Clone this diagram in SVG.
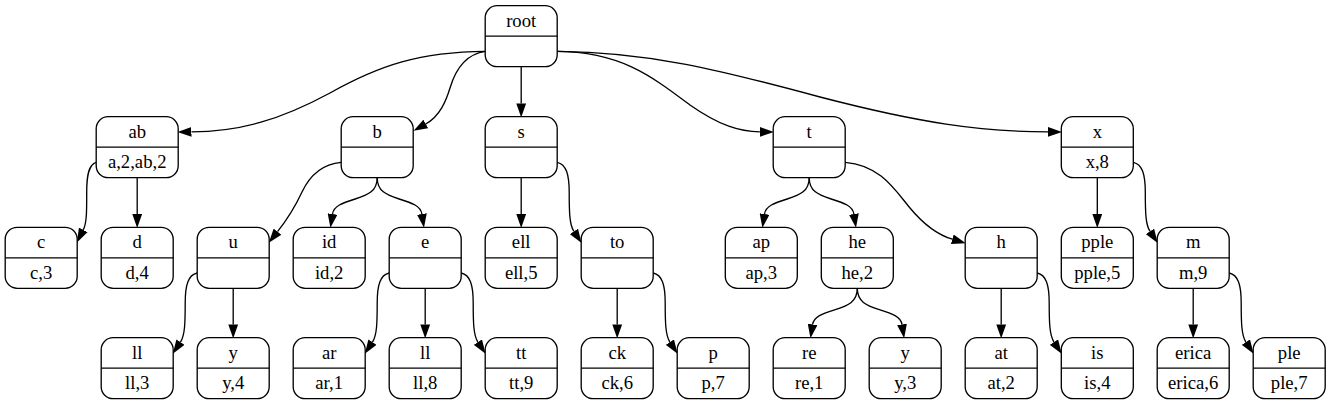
<svg xmlns="http://www.w3.org/2000/svg" width="1331" height="405" viewBox="0 0 1331 405" font-family="Liberation Serif, DejaVu Serif, serif">
<defs>
<style>
.n rect{fill:#fff;stroke:#000;stroke-width:1.33}
.n line{stroke:#000;stroke-width:1.33}
.n text{font-family:'Liberation Serif','DejaVu Serif',serif;font-size:18.67px;text-anchor:middle;fill:#000}
.e path{fill:none;stroke:#000;stroke-width:1.33;marker-end:url(#ah)}
</style>
<marker id="ah" markerUnits="userSpaceOnUse" markerWidth="14" markerHeight="10" viewBox="0 0 13.3 9.34" refX="0" refY="4.67" orient="auto">
<path d="M0,0 L13.3,4.67 L0,9.34 z" fill="#000"/>
</marker>
</defs>
<rect width="1331" height="405" fill="#fff"/>
<g id="connectors" class="e">
<path d="M485.5,51.4 C420,52 380,65 330,93 C280,120 240,131.6 191.5,131.9"/>
<path d="M485.5,51.4 C466,54 456,68 450,88 C446,101 440,116 425.8,124"/>
<path d="M521.2,66.7 L521.2,103.4"/>
<path d="M557,51.4 C620,52 650,75 690,105 C720,126 740,131.6 759.9,131.9"/>
<path d="M557,51.4 C650,52 720,70 820,97 C920,123 980,131.6 1048,131.9"/>
<path d="M96.2,162.3 C89,164.3 86.7,174.3 86.7,192.3 C86.7,210 86.9,222.8 83.3,229.9"/>
<path d="M137.2,177.7 L137.2,214"/>
<path d="M341.2,162.3 C322,164 310,175 302,192 C295,207 286,221 277.5,231.7"/>
<path d="M377.2,177.7 C377.2,191 368.2,195 355.2,199 C342.2,203 333.7,206 332.5,214"/>
<path d="M377.2,177.7 C377.2,191 386.2,195 399.2,199 C412.2,203 420.7,206 421.9,214"/>
<path d="M521.2,177.7 L521.2,214"/>
<path d="M557.2,162.3 C566.2,164.3 569.2,174.3 569.2,192.3 C569.2,212.3 569.5,224.7 573.9,231.4"/>
<path d="M809.2,177.7 C809.2,191 800.2,195 787.2,199 C774.2,203 765.7,206 764.5,214"/>
<path d="M809.2,177.7 C809.2,191 818.2,195 831.2,199 C844.2,203 852.7,206 853.9,214"/>
<path d="M845.2,162.3 C880,165 895,190 910,208 C925,226 938,235 952.3,239.2"/>
<path d="M1097.3,177.7 L1097.3,214"/>
<path d="M1133.3,162.3 C1142.3,164.3 1145.3,174.3 1145.3,192.3 C1145.3,212.3 1145.6,224.7 1150,231.4"/>
<path d="M197.2,273 C188.2,275 185.2,285 185.2,303 C185.2,323 184.9,335.4 180.5,342.1"/>
<path d="M233.2,288.3 L233.2,324.4"/>
<path d="M389.2,273 C380.2,275 377.2,285 377.2,303 C377.2,323 376.9,335.4 372.5,342.1"/>
<path d="M425.2,288.3 L425.2,324.4"/>
<path d="M461.2,273 C470.2,275 473.2,285 473.2,303 C473.2,323 473.5,335.4 477.9,342.1"/>
<path d="M617.2,288.3 L617.2,324.4"/>
<path d="M653.2,273 C662.2,275 665.2,285 665.2,303 C665.2,323 665.5,335.4 669.9,342.1"/>
<path d="M857.3,288.3 C857.3,301.6 848.3,305.6 835.3,309.6 C822.3,313.6 813.8,316.6 812.6,324.4"/>
<path d="M857.3,288.3 C857.3,301.6 866.3,305.6 879.3,309.6 C892.3,313.6 900.8,316.6 902,324.4"/>
<path d="M1001.2,288.3 L1001.2,324.4"/>
<path d="M1037.2,273 C1046.2,275 1049.2,285 1049.2,303 C1049.2,323 1049.6,335.4 1054,342.1"/>
<path d="M1193.2,288.3 L1193.2,324.4"/>
<path d="M1229.2,273 C1238.2,275 1241.2,285 1241.2,303 C1241.2,323 1241.5,335.4 1245.9,342.1"/>
</g>
<g id="n_root" class="n"><rect x="485.2" y="5.7" width="72" height="61" rx="12"/><line x1="485.2" y1="36.2" x2="557.2" y2="36.2"/><text x="521.2" y="26.5">root</text></g>
<g id="n_ab" class="n"><rect x="96.2" y="116.7" width="82" height="61" rx="12"/><line x1="96.2" y1="147.2" x2="178.2" y2="147.2"/><text x="137.2" y="137.5">ab</text><text x="137.2" y="168">a,2,ab,2</text></g>
<g id="n_b" class="n"><rect x="341.2" y="116.7" width="72" height="61" rx="12"/><line x1="341.2" y1="147.2" x2="413.2" y2="147.2"/><text x="377.2" y="137.5">b</text></g>
<g id="n_s" class="n"><rect x="485.2" y="116.7" width="72" height="61" rx="12"/><line x1="485.2" y1="147.2" x2="557.2" y2="147.2"/><text x="521.2" y="137.5">s</text></g>
<g id="n_t" class="n"><rect x="773.2" y="116.7" width="72" height="61" rx="12"/><line x1="773.2" y1="147.2" x2="845.2" y2="147.2"/><text x="809.2" y="137.5">t</text></g>
<g id="n_x" class="n"><rect x="1061.3" y="116.7" width="72" height="61" rx="12"/><line x1="1061.3" y1="147.2" x2="1133.3" y2="147.2"/><text x="1097.3" y="137.5">x</text><text x="1097.3" y="168">x,8</text></g>
<g id="n_c" class="n"><rect x="5.2" y="227.3" width="72" height="61" rx="12"/><line x1="5.2" y1="257.8" x2="77.2" y2="257.8"/><text x="41.2" y="248.1">c</text><text x="41.2" y="278.6">c,3</text></g>
<g id="n_d" class="n"><rect x="101.2" y="227.3" width="72" height="61" rx="12"/><line x1="101.2" y1="257.8" x2="173.2" y2="257.8"/><text x="137.2" y="248.1">d</text><text x="137.2" y="278.6">d,4</text></g>
<g id="n_u" class="n"><rect x="197.2" y="227.3" width="72" height="61" rx="12"/><line x1="197.2" y1="257.8" x2="269.2" y2="257.8"/><text x="233.2" y="248.1">u</text></g>
<g id="n_id" class="n"><rect x="293.2" y="227.3" width="72" height="61" rx="12"/><line x1="293.2" y1="257.8" x2="365.2" y2="257.8"/><text x="329.2" y="248.1">id</text><text x="329.2" y="278.6">id,2</text></g>
<g id="n_e" class="n"><rect x="389.2" y="227.3" width="72" height="61" rx="12"/><line x1="389.2" y1="257.8" x2="461.2" y2="257.8"/><text x="425.2" y="248.1">e</text></g>
<g id="n_ell" class="n"><rect x="485.2" y="227.3" width="72" height="61" rx="12"/><line x1="485.2" y1="257.8" x2="557.2" y2="257.8"/><text x="521.2" y="248.1">ell</text><text x="521.2" y="278.6">ell,5</text></g>
<g id="n_to" class="n"><rect x="581.2" y="227.3" width="72" height="61" rx="12"/><line x1="581.2" y1="257.8" x2="653.2" y2="257.8"/><text x="617.2" y="248.1">to</text></g>
<g id="n_ap" class="n"><rect x="725.3" y="227.3" width="72" height="61" rx="12"/><line x1="725.3" y1="257.8" x2="797.3" y2="257.8"/><text x="761.3" y="248.1">ap</text><text x="761.3" y="278.6">ap,3</text></g>
<g id="n_he" class="n"><rect x="821.3" y="227.3" width="72" height="61" rx="12"/><line x1="821.3" y1="257.8" x2="893.3" y2="257.8"/><text x="857.3" y="248.1">he</text><text x="857.3" y="278.6">he,2</text></g>
<g id="n_h" class="n"><rect x="965.2" y="227.3" width="72" height="61" rx="12"/><line x1="965.2" y1="257.8" x2="1037.2" y2="257.8"/><text x="1001.2" y="248.1">h</text></g>
<g id="n_pple" class="n"><rect x="1061.3" y="227.3" width="72" height="61" rx="12"/><line x1="1061.3" y1="257.8" x2="1133.3" y2="257.8"/><text x="1097.3" y="248.1">pple</text><text x="1097.3" y="278.6">pple,5</text></g>
<g id="n_m" class="n"><rect x="1157.2" y="227.3" width="72" height="61" rx="12"/><line x1="1157.2" y1="257.8" x2="1229.2" y2="257.8"/><text x="1193.2" y="248.1">m</text><text x="1193.2" y="278.6">m,9</text></g>
<g id="n_ll1" class="n"><rect x="101.2" y="337.7" width="72" height="61" rx="12"/><line x1="101.2" y1="368.2" x2="173.2" y2="368.2"/><text x="137.2" y="358.5">ll</text><text x="137.2" y="389">ll,3</text></g>
<g id="n_y1" class="n"><rect x="197.2" y="337.7" width="72" height="61" rx="12"/><line x1="197.2" y1="368.2" x2="269.2" y2="368.2"/><text x="233.2" y="358.5">y</text><text x="233.2" y="389">y,4</text></g>
<g id="n_ar" class="n"><rect x="293.2" y="337.7" width="72" height="61" rx="12"/><line x1="293.2" y1="368.2" x2="365.2" y2="368.2"/><text x="329.2" y="358.5">ar</text><text x="329.2" y="389">ar,1</text></g>
<g id="n_ll2" class="n"><rect x="389.2" y="337.7" width="72" height="61" rx="12"/><line x1="389.2" y1="368.2" x2="461.2" y2="368.2"/><text x="425.2" y="358.5">ll</text><text x="425.2" y="389">ll,8</text></g>
<g id="n_tt" class="n"><rect x="485.2" y="337.7" width="72" height="61" rx="12"/><line x1="485.2" y1="368.2" x2="557.2" y2="368.2"/><text x="521.2" y="358.5">tt</text><text x="521.2" y="389">tt,9</text></g>
<g id="n_ck" class="n"><rect x="581.2" y="337.7" width="72" height="61" rx="12"/><line x1="581.2" y1="368.2" x2="653.2" y2="368.2"/><text x="617.2" y="358.5">ck</text><text x="617.2" y="389">ck,6</text></g>
<g id="n_p" class="n"><rect x="677.2" y="337.7" width="72" height="61" rx="12"/><line x1="677.2" y1="368.2" x2="749.2" y2="368.2"/><text x="713.2" y="358.5">p</text><text x="713.2" y="389">p,7</text></g>
<g id="n_re" class="n"><rect x="773.2" y="337.7" width="72" height="61" rx="12"/><line x1="773.2" y1="368.2" x2="845.2" y2="368.2"/><text x="809.2" y="358.5">re</text><text x="809.2" y="389">re,1</text></g>
<g id="n_y2" class="n"><rect x="869.2" y="337.7" width="72" height="61" rx="12"/><line x1="869.2" y1="368.2" x2="941.2" y2="368.2"/><text x="905.2" y="358.5">y</text><text x="905.2" y="389">y,3</text></g>
<g id="n_at" class="n"><rect x="965.2" y="337.7" width="72" height="61" rx="12"/><line x1="965.2" y1="368.2" x2="1037.2" y2="368.2"/><text x="1001.2" y="358.5">at</text><text x="1001.2" y="389">at,2</text></g>
<g id="n_is" class="n"><rect x="1061.3" y="337.7" width="72" height="61" rx="12"/><line x1="1061.3" y1="368.2" x2="1133.3" y2="368.2"/><text x="1097.3" y="358.5">is</text><text x="1097.3" y="389">is,4</text></g>
<g id="n_erica" class="n"><rect x="1157.2" y="337.7" width="72" height="61" rx="12"/><line x1="1157.2" y1="368.2" x2="1229.2" y2="368.2"/><text x="1193.2" y="358.5">erica</text><text x="1193.2" y="389">erica,6</text></g>
<g id="n_ple" class="n"><rect x="1253.2" y="337.7" width="72" height="61" rx="12"/><line x1="1253.2" y1="368.2" x2="1325.2" y2="368.2"/><text x="1289.2" y="358.5">ple</text><text x="1289.2" y="389">ple,7</text></g>
</svg>
